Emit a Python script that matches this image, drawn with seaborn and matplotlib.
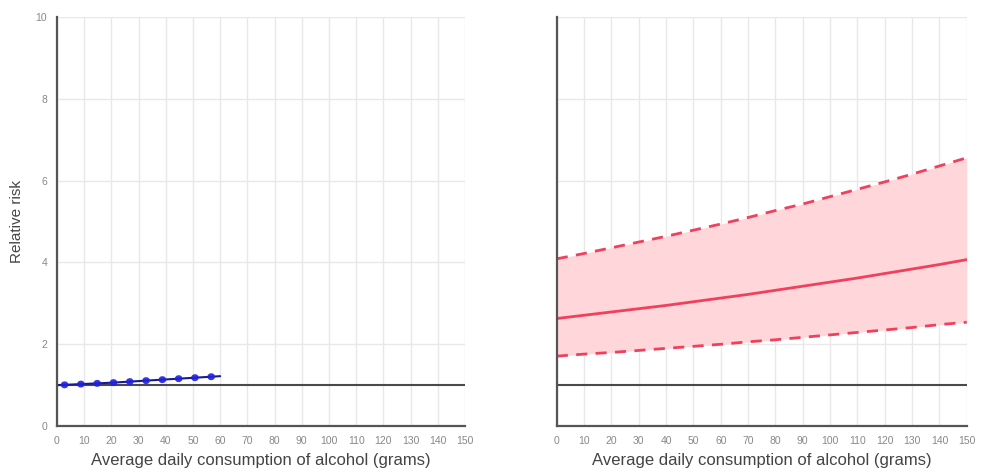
import numpy as np
import pandas as pd
import matplotlib
matplotlib.use("Agg")
import matplotlib.pyplot as plt
import seaborn as sns

# Left panel (blue estimate)
left_x = [0, 10, 20, 30, 40, 50, 60]
left_rr = [1.00, 1.03, 1.06, 1.10, 1.14, 1.18, 1.22]

# Right panel (red estimate with confidence band)
right_x = [0, 10, 20, 30, 40, 50, 60, 70, 80, 90, 100, 110, 120, 130, 140, 150]
right_rr = [2.63, 2.71, 2.79, 2.87, 2.95, 3.04, 3.13, 3.22, 3.32, 3.42, 3.52, 3.62, 3.73, 3.84, 3.95, 4.07]
right_upper = [4.09, 4.22, 4.36, 4.50, 4.64, 4.79, 4.94, 5.10, 5.27, 5.43, 5.61, 5.79, 5.97, 6.16, 6.36, 6.56]
right_lower = [1.71, 1.76, 1.80, 1.85, 1.90, 1.95, 2.00, 2.06, 2.11, 2.17, 2.23, 2.29, 2.35, 2.41, 2.48, 2.54]

ref_x = [0, 150]
ref_y = [1, 1]

x_ticks = list(range(0, 151, 10))
y_ticks = [0, 2, 4, 6, 8, 10]
x_label = "Average daily consumption of alcohol (grams)"
y_label = "Relative risk"

sns.set_style("white")
plt.rcParams["font.family"] = ["Liberation Sans", "DejaVu Sans"]

fig = plt.figure(figsize=(9.82, 4.75), dpi=100)
ax1 = fig.add_axes([0.058, 0.103, 0.4155, 0.861])
ax2 = fig.add_axes([0.567, 0.103, 0.4175, 0.861])

red = "#f0405c"
blue = "#2020e0"
axis_col = "#555555"

df_left = pd.DataFrame({"x": left_x, "rr": left_rr})
df_right = pd.DataFrame({"x": right_x, "rr": right_rr, "lo": right_lower, "hi": right_upper})
df_ref = pd.DataFrame({"x": ref_x, "y": ref_y})

for ax in (ax1, ax2):
    ax.set_xlim(0, 150)
    ax.set_ylim(0, 10)
    ax.set_xticks(x_ticks)
    ax.set_yticks(y_ticks)
    ax.grid(True, color="#e8e8e8", linewidth=1.0)
    ax.set_axisbelow(True)
    for s in ("top", "right"):
        ax.spines[s].set_visible(False)
    for s in ("left", "bottom"):
        ax.spines[s].set_color(axis_col)
        ax.spines[s].set_linewidth(1.6)
    ax.tick_params(axis="both", length=3, width=1.2, color=axis_col,
                   labelsize=7.5, labelcolor="#888888", pad=4)
    sns.lineplot(data=df_ref, x="x", y="y", ax=ax, color="#4a4a4a", linewidth=1.5)
    ax.set_xlabel(x_label, fontsize=12, color="#444444", labelpad=5)
    ax.set_ylabel("")

# Left
sns.lineplot(data=df_left, x="x", y="rr", ax=ax1, color="#1a1a90", linewidth=1.5)
sns.lineplot(data=df_left, x="x", y="rr", ax=ax1, color=blue, linewidth=5,
             linestyle=(1.3, (0.1, 2.25)), dash_capstyle="round", alpha=0.9)
ax1.set_ylabel(y_label, fontsize=11, color="#444444", labelpad=8)

# Right
ax2.fill_between(df_right["x"], df_right["lo"], df_right["hi"], color="#ffd6da", linewidth=0)
sns.lineplot(data=df_right, x="x", y="hi", ax=ax2, color=red, linewidth=2, linestyle=(0, (4, 3)))
sns.lineplot(data=df_right, x="x", y="lo", ax=ax2, color=red, linewidth=2, linestyle=(0, (4, 3)))
sns.lineplot(data=df_right, x="x", y="rr", ax=ax2, color=red, linewidth=2)
ax2.set_yticklabels([])
ax2.set_ylabel("")

fig.savefig("out.png", dpi=100)
